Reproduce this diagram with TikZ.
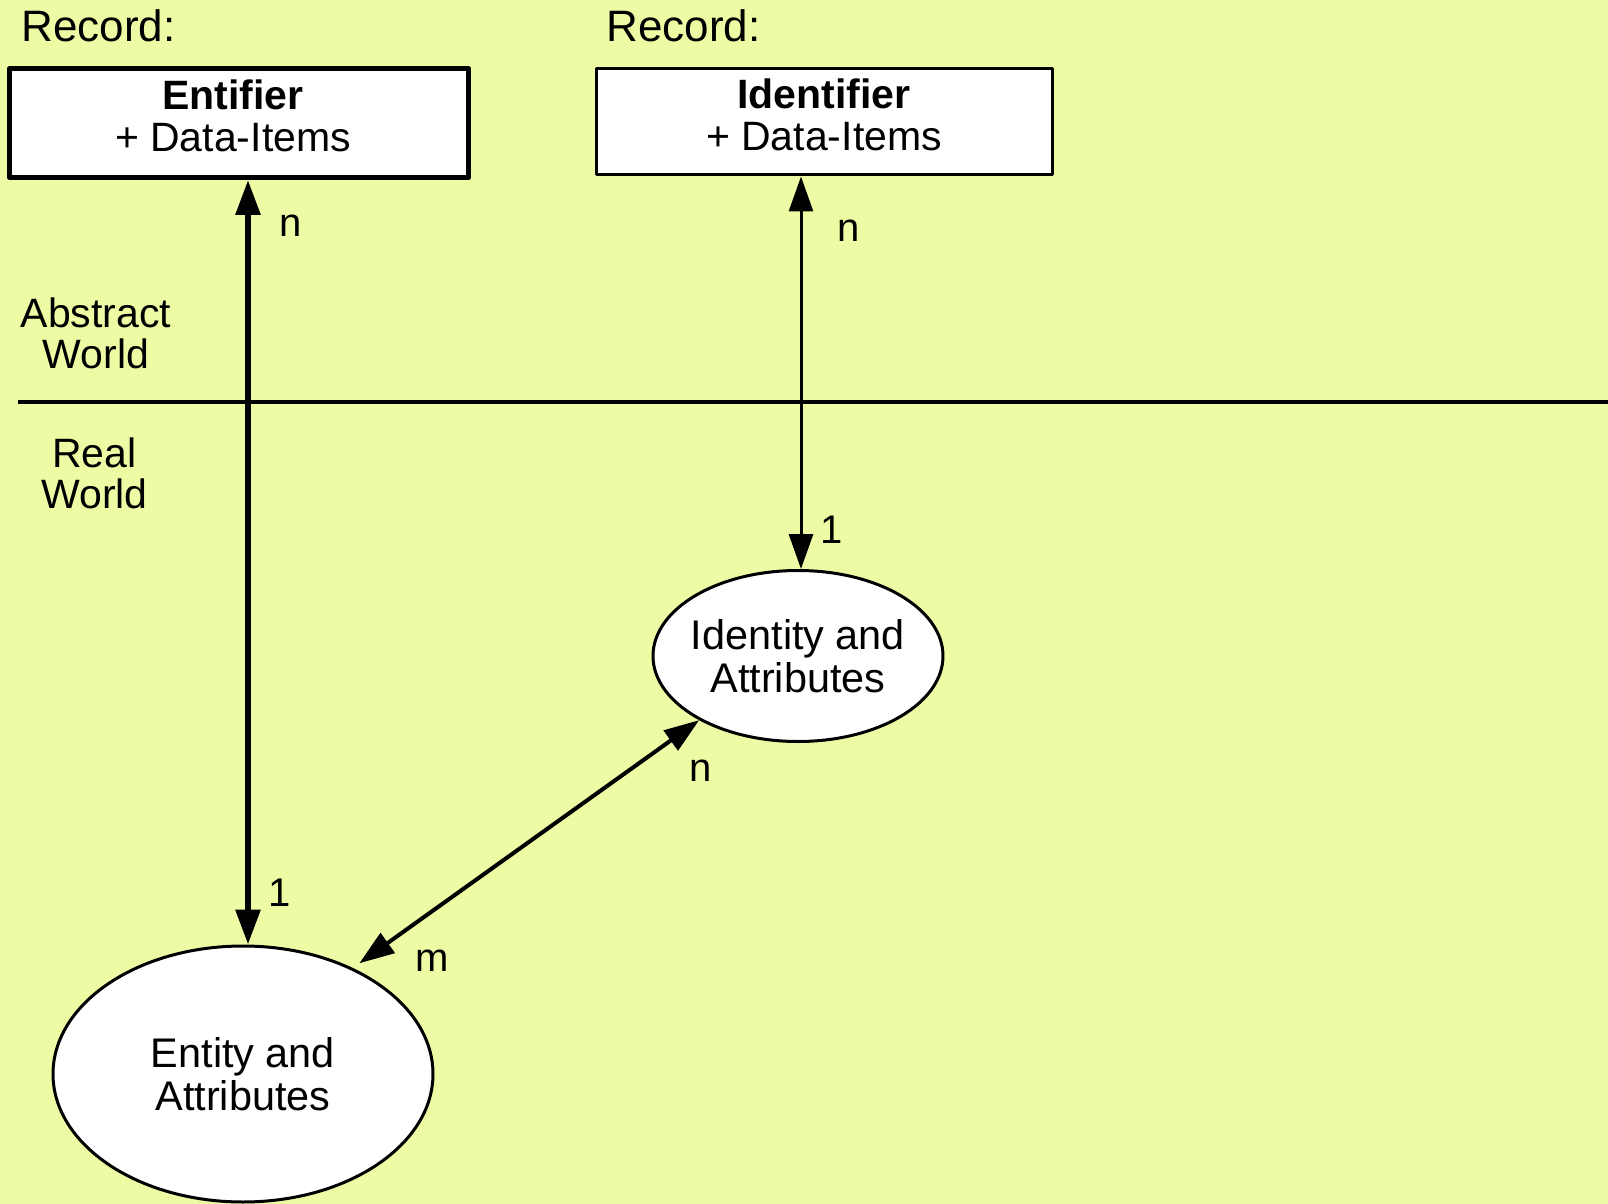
\documentclass[tikz,border=0pt]{standalone}
\usepackage{fontspec}
\setmainfont{Liberation Sans}
\usetikzlibrary{shapes.geometric,arrows.meta}
\definecolor{paper}{RGB}{238,251,164}
\begin{document}
\begin{tikzpicture}[x=0.5pt, y=-0.5pt, line join=round,
		txt/.style={font=\fontsize{20.5}{21}\selectfont, align=center, inner sep=0pt},
		tag/.style={font=\fontsize{20}{21}\selectfont, inner sep=0pt},
		rec/.style={font=\fontsize{22}{24}\selectfont, inner sep=0pt, anchor=base west},
		recbox/.style={draw, fill=white, inner sep=0pt},
		blob/.style={ellipse, draw, fill=white, line width=1.5pt, inner sep=-8pt, align=center, font=\fontsize{20.7}{21.5}\selectfont},
		link/.style={<->, >={Triangle[length=17.5pt,width=12pt]}}]
				\fill[paper] (0,0) rectangle (1608,1204);
				\useasboundingbox (0,0) rectangle (1608,1204);
				\node[rec] (recleft) at (21,42) {Record:};
				\node[rec] (recright) at (606,42) {Record:};
				\node[recbox, line width=2.5pt, minimum width=229.5pt, minimum height=54.5pt] (entifier) at (239,123) {};
				\node[recbox, line width=1.5pt, minimum width=228pt, minimum height=53pt] (identifier) at (824,122) {};
				\node[txt] (entifiertxt) at (233,116) {\textbf{Entifier}\\+ Data-Items};
				\node[txt] (identifiertxt) at (824,115) {\textbf{Identifier}\\+ Data-Items};
				\node[txt, font=\fontsize{20.5}{20.5}\selectfont] (abstract) at (96,333) {Abstract\\World};
				\node[txt, font=\fontsize{20.5}{20.5}\selectfont] (real) at (94.5,473) {Real\\World};
				\draw[line width=2pt] (18,402) -- (1608,402);
				\node[blob, minimum width=145pt, minimum height=85.5pt] (identity) at (798,656) {Identity and\\Attributes};
				\node[blob, minimum width=190pt, minimum height=128pt] (entity) at (243,1074) {Entity and\\Attributes};
				\draw[link, line width=3pt] ([xshift=2.5pt]entity.north) -- ([xshift=4.5pt]entifier.south);
				\draw[link, line width=1.5pt] ([xshift=1.5pt]identity.north) -- ([xshift=-11.5pt]identifier.south);
				\draw[link, line width=2pt, shorten <=4pt] (entity.44) -- (identity.213);
				\node[tag] (entn) at (291,226) {n};
				\node[tag] (idn) at (849,231) {n};
				\node[tag] (id1) at (832,530) {1};
				\node[tag] (ent1) at (280,893) {1};
				\node[tag] (diagn) at (701,771) {n};
				\node[tag] (diagm) at (432,961) {m};
			\end{tikzpicture}
\end{document}
